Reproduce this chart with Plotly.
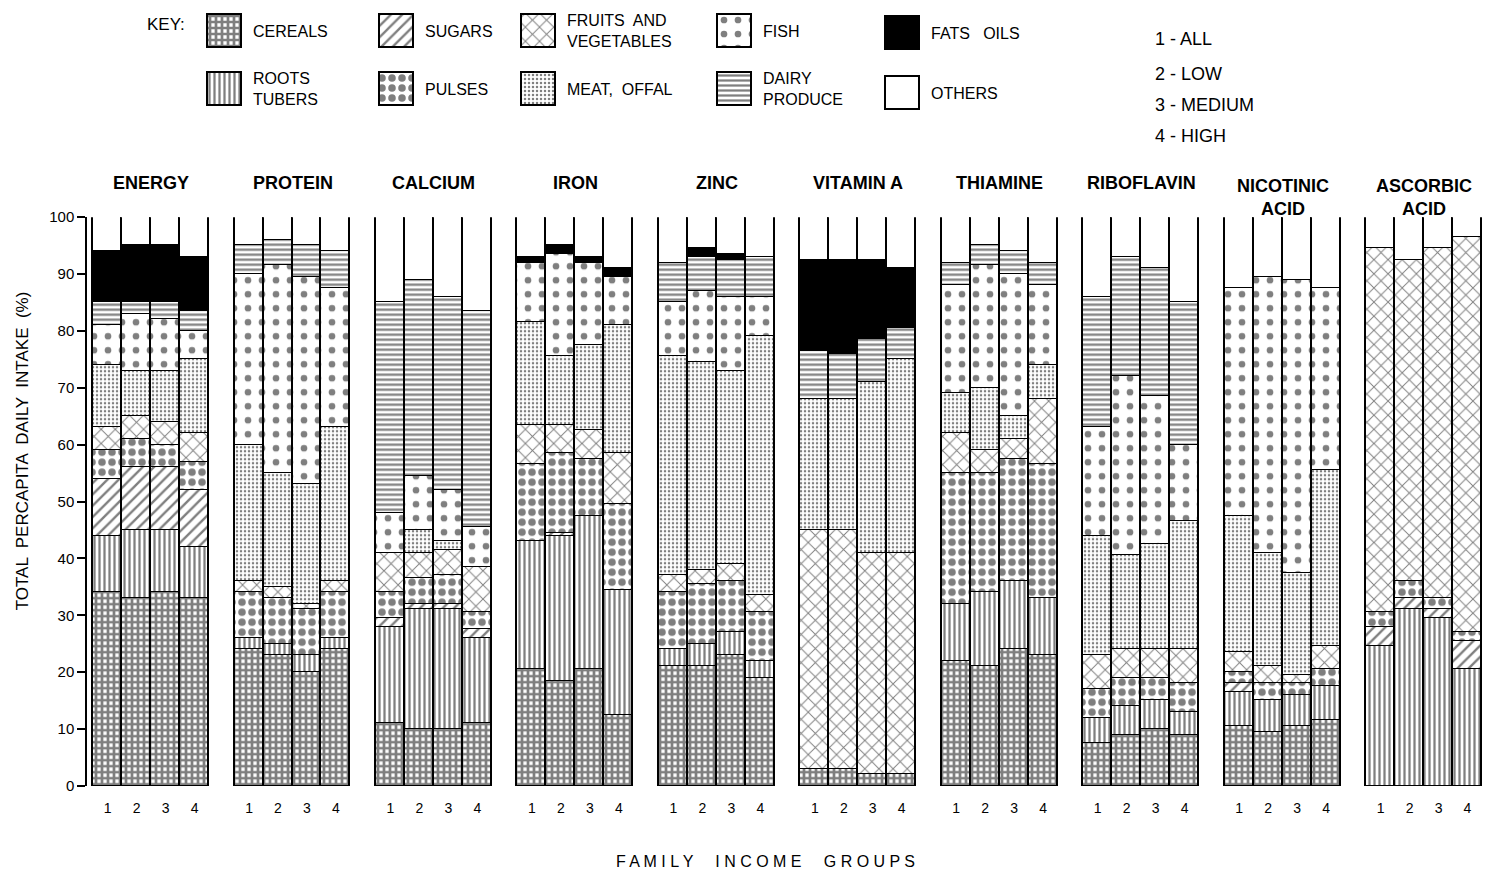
import plotly.graph_objects as go

# ---------------- data ----------------
CATEGORIES = ["CEREALS", "ROOTS TUBERS", "SUGARS", "PULSES", "FRUITS AND VEGETABLES",
              "MEAT, OFFAL", "FISH", "DAIRY PRODUCE", "FATS OILS", "OTHERS"]
NUTRIENTS = ["ENERGY", "PROTEIN", "CALCIUM", "IRON", "ZINC", "VITAMIN A",
             "THIAMINE", "RIBOFLAVIN", "NICOTINIC<br>ACID", "ASCORBIC<br>ACID"]
INCOME_GROUPS = ["1", "2", "3", "4"]

# cumulative top (%) of each category, in CATEGORIES order, for income groups 1..4
ENERGY = [[34, 44, 54, 59, 63, 74, 81, 85, 94, 100],
          [33, 45, 56, 61, 65, 73, 83, 85, 95, 100],
          [34, 45, 56, 60, 64, 73, 82, 85, 95, 100],
          [33, 42, 52, 57, 62, 75, 80, 83.5, 93, 100]]
PROTEIN = [[24, 26, 26, 34, 36, 60, 90, 95, 95, 100],
           [23, 25, 25, 33, 35, 55, 91.5, 96, 96, 100],
           [20, 23, 23, 31, 32, 53, 89.5, 95, 95, 100],
           [24, 26, 26, 34, 36, 63, 87.5, 94, 94, 100]]
CALCIUM = [[11, 28, 29.5, 34, 41, 41, 48, 85, 85, 100],
           [10, 31, 32, 36.5, 41, 45, 54.5, 89, 89, 100],
           [10, 31, 32, 37, 41.5, 43, 52, 86, 86, 100],
           [11, 26, 27.5, 30.5, 38.5, 38.5, 45.5, 83.5, 83.5, 100]]
IRON = [[20.5, 43, 43, 56.5, 63.5, 81.5, 92, 92, 93, 100],
        [18.5, 44, 44.5, 58.5, 63.5, 75.5, 93.5, 93.5, 95, 100],
        [20.5, 47.5, 47.5, 57.5, 62.5, 77.5, 92, 92, 93, 100],
        [12.5, 34.5, 34.5, 49.5, 58.5, 81, 89.5, 89.5, 91, 100]]
ZINC = [[21, 24, 24, 34, 37, 75.5, 85, 92, 92, 100],
        [21, 25, 25, 35.5, 38, 74.5, 87, 93, 94.5, 100],
        [23, 27, 27, 36, 39, 73, 86, 92.5, 93.5, 100],
        [19, 22, 22, 30.5, 33.5, 79, 86, 93, 93, 100]]
VITAMIN_A = [[3, 3, 3, 3, 45, 68, 68, 76.5, 92.5, 100],
             [3, 3, 3, 3, 45, 68, 68, 76, 92.5, 100],
             [2, 2, 2, 2, 41, 71, 71, 78.5, 92.5, 100],
             [2, 2, 2, 2, 41, 75, 75, 80.5, 91, 100]]
THIAMINE = [[22, 32, 32, 55, 62, 69, 88, 92, 92, 100],
            [21, 34, 34, 55, 59, 70, 91.5, 95, 95, 100],
            [24, 36, 36, 57.5, 61, 65, 90, 94, 94, 100],
            [23, 33, 33, 56.5, 68, 74, 88, 92, 92, 100]]
RIBOFLAVIN = [[7.5, 12, 12, 17, 23, 44, 63, 86, 86, 100],
              [9, 14, 14, 19, 24, 40.5, 72, 93, 93, 100],
              [10, 15, 15, 19, 24, 42.5, 68.5, 91, 91, 100],
              [9, 13, 13, 18, 24, 46.5, 60, 85, 85, 100]]
NICOTINIC_ACID = [[10.5, 16.5, 18, 20, 23.5, 47.5, 87.5, 87.5, 87.5, 100],
                  [9.5, 15, 15, 18, 21, 41, 89.5, 89.5, 89.5, 100],
                  [10.5, 16, 16, 18, 19.5, 37.5, 89, 89, 89, 100],
                  [11.5, 17.5, 17.5, 20.5, 24.5, 55.5, 87.5, 87.5, 87.5, 100]]
ASCORBIC_ACID = [[0, 24.5, 28, 30.5, 94.5, 94.5, 94.5, 94.5, 94.5, 100],
                 [0, 31, 33, 36, 92.5, 92.5, 92.5, 92.5, 92.5, 100],
                 [0, 29.5, 31, 33, 94.5, 94.5, 94.5, 94.5, 94.5, 100],
                 [0, 20.5, 25.5, 27, 96.5, 96.5, 96.5, 96.5, 96.5, 100]]

ALL_TOPS = [ENERGY, PROTEIN, CALCIUM, IRON, ZINC, VITAMIN_A,
            THIAMINE, RIBOFLAVIN, NICOTINIC_ACID, ASCORBIC_ACID]

INCOME_KEY = ["1 - ALL", "2 - LOW", "3 - MEDIUM", "4 - HIGH"]

# ---------------- styles ----------------
STYLES = {
    "CEREALS": dict(color="white", shape="+", size=6, solidity=0.7),
    "ROOTS TUBERS": dict(color="white", shape="|", size=5, solidity=0.45),
    "SUGARS": dict(color="white", shape="/", size=8, solidity=0.3),
    "PULSES": dict(color="white", shape=".", size=10, solidity=0.45),
    "FRUITS AND VEGETABLES": dict(color="white", shape="x", size=10, solidity=0.18),
    "MEAT, OFFAL": dict(color="white", shape=".", size=4, solidity=0.3),
    "FISH": dict(color="white", shape=".", size=14, solidity=0.18),
    "DAIRY PRODUCE": dict(color="white", shape="-", size=5, solidity=0.45),
    "FATS OILS": dict(color="black", shape="", size=8, solidity=0.3),
    "OTHERS": dict(color="white", shape="", size=8, solidity=0.3),
}


def marker_for(cat):
    s = STYLES[cat]
    return dict(color=s["color"], line=dict(color="black", width=1.6),
                pattern=dict(shape=s["shape"], fgcolor="black", bgcolor=s["color"],
                             size=s["size"], solidity=s["solidity"], fillmode="overlay"))


PITCH = 4.88
FIG_W, FIG_H = 1486, 880
M_L, M_R, M_T, M_B = 87, 4, 10, 94
PLOT_H = FIG_H - M_T - M_B
PLOT_W = FIG_W - M_L - M_R


def py(ypix):  # pixel row -> paper y
    return (FIG_H - M_B - ypix) / PLOT_H


def px(xpix):  # pixel column -> paper x
    return (xpix - M_L) / PLOT_W


xs, tick_text = [], []
for g in range(len(NUTRIENTS)):
    for i in range(len(INCOME_GROUPS)):
        xs.append(g * PITCH + i)
        tick_text.append(INCOME_GROUPS[i])

fig = go.Figure()
for k, cat in enumerate(CATEGORIES):
    ys = []
    for tops in ALL_TOPS:
        for bar in tops:
            prev = bar[k - 1] if k > 0 else 0
            ys.append(round(bar[k] - prev, 3))
    fig.add_trace(go.Bar(x=xs, y=ys, width=1, marker=marker_for(cat), name=cat,
                         showlegend=False, hoverinfo="skip"))

# ---------------- key (swatches drawn on an overlay axis in pixel units) ----------------
KEY_LAYOUT = [  # (category, label, column left px, row top px)
    ("CEREALS", "CEREALS", 208, 12),
    ("SUGARS", "SUGARS", 380, 12),
    ("FRUITS AND VEGETABLES", "FRUITS  AND<br>VEGETABLES", 522, 12),
    ("FISH", "FISH", 718, 12),
    ("FATS OILS", "FATS   OILS", 886, 14),
    ("ROOTS TUBERS", "ROOTS<br>TUBERS", 208, 70),
    ("PULSES", "PULSES", 380, 70),
    ("MEAT, OFFAL", "MEAT,  OFFAL", 522, 70),
    ("DAIRY PRODUCE", "DAIRY<br>PRODUCE", 718, 70),
    ("OTHERS", "OTHERS", 886, 74),
]
SW_W, SW_H = 34, 33
annotations = []
for cat, label, left, top in KEY_LAYOUT:
    fig.add_trace(go.Bar(x=[left + SW_W / 2], y=[SW_H], base=[top], width=[SW_W],
                         marker=marker_for(cat), xaxis="x2", yaxis="y2",
                         showlegend=False, hoverinfo="skip"))
    annotations.append(dict(text=label, x=px(left + SW_W + 9), y=py(top + SW_H / 2),
                            xref="paper", yref="paper", xanchor="left", yanchor="middle",
                            showarrow=False, align="left",
                            font=dict(family="Liberation Sans", size=16, color="black")))

annotations.append(dict(text="KEY:", x=px(145), y=py(22), xref="paper", yref="paper",
                        xanchor="left", yanchor="middle", showarrow=False,
                        font=dict(family="Liberation Sans", size=17, color="black")))

for j, t in enumerate(INCOME_KEY):
    annotations.append(dict(text=t, x=px(1153), y=py([36, 71, 102, 133][j]),
                            xref="paper", yref="paper", xanchor="left", yanchor="middle",
                            showarrow=False,
                            font=dict(family="Liberation Sans", size=18, color="black")))

for g, name in enumerate(NUTRIENTS):
    two = "<br>" in name
    annotations.append(dict(text="<b>" + name.replace("<br>", "</b><br><b>") + "</b>",
                            x=g * PITCH + 1.5, xref="x",
                            y=py(195 if two else 181), yref="paper",
                            xanchor="center", yanchor="middle", showarrow=False,
                            font=dict(family="Liberation Sans", size=18, color="black")))

annotations.append(dict(text="TOTAL  PERCAPITA  DAILY  INTAKE  (%)", textangle=-90,
                        x=px(22), y=py(450), xref="paper", yref="paper",
                        xanchor="center", yanchor="middle", showarrow=False,
                        font=dict(family="Liberation Sans", size=17, color="black")))
annotations.append(dict(text="F A M I L Y     I N C O M E     G R O U P S",
                        x=px(765), y=py(862), xref="paper", yref="paper",
                        xanchor="center", yanchor="middle", showarrow=False,
                        font=dict(family="Liberation Sans", size=16, color="black")))

fig.update_layout(
    width=FIG_W, height=FIG_H,
    margin=dict(l=M_L, r=M_R, t=M_T, b=M_B),
    paper_bgcolor="white", plot_bgcolor="white",
    barmode="stack", bargap=0,
    showlegend=False,
    annotations=annotations,
    xaxis=dict(range=[-0.71, 9 * PITCH + 3.5], tickvals=xs, ticktext=tick_text,
               showgrid=False, zeroline=False, showline=False, ticks="",
               tickfont=dict(family="Liberation Sans", size=14, color="black"),
               ticklabelstandoff=12),
    yaxis=dict(range=[0, 100], domain=[0, py(215)], tickvals=list(range(0, 101, 10)),
               showgrid=False, zeroline=False, showline=True, linecolor="black",
               linewidth=1.5, ticks="outside", ticklen=8, tickwidth=1.5, tickcolor="black",
               tickfont=dict(family="Liberation Sans", size=15, color="black")),
    xaxis2=dict(range=[M_L, FIG_W - M_R], domain=[0, 1], visible=False, anchor="y2"),
    yaxis2=dict(range=[200, M_T], domain=[py(200), 1], visible=False, anchor="x2"),
)

fig.write_html("out.html")
